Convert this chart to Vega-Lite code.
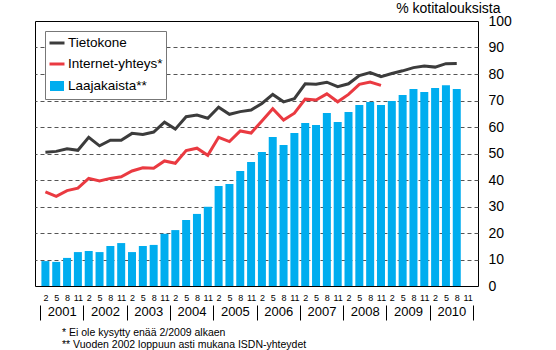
{
  "$schema": "https://vega.github.io/schema/vega-lite/v6.json",
  "width": 443,
  "height": 265,
  "autosize": {"type": "none"},
  "padding": {"left": 35, "top": 21, "right": 78, "bottom": 64},
  "background": "white",
  "config": {
    "font": "Liberation Sans",
    "view": {"stroke": "black", "strokeWidth": 1},
    "axis": {"labelColor": "#1a1a1a", "titleColor": "#1a1a1a"}
  },
  "title": {
    "text": ["* Ei ole kysytty enää 2/2009 alkaen", "** Vuoden 2002 loppuun asti mukana ISDN-yhteydet"],
    "orient": "bottom",
    "anchor": "start",
    "frame": "group",
    "dx": 27,
    "offset": 7,
    "fontSize": 10.5,
    "fontWeight": "normal",
    "color": "black",
    "lineHeight": 12
  },
  "data": {
    "values": [
      {"i":0,"s":"Laajakaista**","v":9.4},{"i":1,"s":"Laajakaista**","v":9.1},{"i":2,"s":"Laajakaista**","v":10.6},{"i":3,"s":"Laajakaista**","v":12.8},
      {"i":4,"s":"Laajakaista**","v":13.2},{"i":5,"s":"Laajakaista**","v":12.8},{"i":6,"s":"Laajakaista**","v":15.1},{"i":7,"s":"Laajakaista**","v":16.2},
      {"i":8,"s":"Laajakaista**","v":12.8},{"i":9,"s":"Laajakaista**","v":15.1},{"i":10,"s":"Laajakaista**","v":15.5},{"i":11,"s":"Laajakaista**","v":19.7},
      {"i":12,"s":"Laajakaista**","v":21.1},{"i":13,"s":"Laajakaista**","v":24.9},{"i":14,"s":"Laajakaista**","v":27.2},{"i":15,"s":"Laajakaista**","v":29.9},
      {"i":16,"s":"Laajakaista**","v":37.7},{"i":17,"s":"Laajakaista**","v":38.5},{"i":18,"s":"Laajakaista**","v":43.4},{"i":19,"s":"Laajakaista**","v":46.8},
      {"i":20,"s":"Laajakaista**","v":50.6},{"i":21,"s":"Laajakaista**","v":56.2},{"i":22,"s":"Laajakaista**","v":53.2},{"i":23,"s":"Laajakaista**","v":57.7},
      {"i":24,"s":"Laajakaista**","v":61.5},{"i":25,"s":"Laajakaista**","v":60.8},{"i":26,"s":"Laajakaista**","v":65.3},{"i":27,"s":"Laajakaista**","v":61.9},
      {"i":28,"s":"Laajakaista**","v":65.7},{"i":29,"s":"Laajakaista**","v":68.3},{"i":30,"s":"Laajakaista**","v":69.4},{"i":31,"s":"Laajakaista**","v":68.3},
      {"i":32,"s":"Laajakaista**","v":69.8},{"i":33,"s":"Laajakaista**","v":72.1},{"i":34,"s":"Laajakaista**","v":74.3},{"i":35,"s":"Laajakaista**","v":73.2},
      {"i":36,"s":"Laajakaista**","v":74.7},{"i":37,"s":"Laajakaista**","v":75.8},{"i":38,"s":"Laajakaista**","v":74.3},
      {"i":0,"s":"Tietokone","v":50.5},{"i":1,"s":"Tietokone","v":50.8},{"i":2,"s":"Tietokone","v":51.8},{"i":3,"s":"Tietokone","v":51.2},
      {"i":4,"s":"Tietokone","v":56.1},{"i":5,"s":"Tietokone","v":52.9},{"i":6,"s":"Tietokone","v":55.0},{"i":7,"s":"Tietokone","v":55.0},
      {"i":8,"s":"Tietokone","v":57.6},{"i":9,"s":"Tietokone","v":57.2},{"i":10,"s":"Tietokone","v":58.1},{"i":11,"s":"Tietokone","v":61.8},
      {"i":12,"s":"Tietokone","v":59.2},{"i":13,"s":"Tietokone","v":63.9},{"i":14,"s":"Tietokone","v":64.5},{"i":15,"s":"Tietokone","v":63.3},
      {"i":16,"s":"Tietokone","v":67.5},{"i":17,"s":"Tietokone","v":64.8},{"i":18,"s":"Tietokone","v":65.8},{"i":19,"s":"Tietokone","v":66.4},
      {"i":20,"s":"Tietokone","v":68.9},{"i":21,"s":"Tietokone","v":72.3},{"i":22,"s":"Tietokone","v":69.5},{"i":23,"s":"Tietokone","v":70.7},
      {"i":24,"s":"Tietokone","v":76.3},{"i":25,"s":"Tietokone","v":76.1},{"i":26,"s":"Tietokone","v":76.9},{"i":27,"s":"Tietokone","v":75.2},
      {"i":28,"s":"Tietokone","v":76.3},{"i":29,"s":"Tietokone","v":79.4},{"i":30,"s":"Tietokone","v":80.5},{"i":31,"s":"Tietokone","v":79.0},
      {"i":32,"s":"Tietokone","v":80.2},{"i":33,"s":"Tietokone","v":81.2},{"i":34,"s":"Tietokone","v":82.4},{"i":35,"s":"Tietokone","v":83.0},
      {"i":36,"s":"Tietokone","v":82.6},{"i":37,"s":"Tietokone","v":83.9},{"i":38,"s":"Tietokone","v":84.0},
      {"i":0,"s":"Internet-yhteys*","v":35.5},{"i":1,"s":"Internet-yhteys*","v":33.8},{"i":2,"s":"Internet-yhteys*","v":36.0},{"i":3,"s":"Internet-yhteys*","v":36.9},
      {"i":4,"s":"Internet-yhteys*","v":40.6},{"i":5,"s":"Internet-yhteys*","v":39.6},{"i":6,"s":"Internet-yhteys*","v":40.6},{"i":7,"s":"Internet-yhteys*","v":41.2},
      {"i":8,"s":"Internet-yhteys*","v":43.4},{"i":9,"s":"Internet-yhteys*","v":44.6},{"i":10,"s":"Internet-yhteys*","v":44.4},{"i":11,"s":"Internet-yhteys*","v":47.2},
      {"i":12,"s":"Internet-yhteys*","v":46.3},{"i":13,"s":"Internet-yhteys*","v":51.1},{"i":14,"s":"Internet-yhteys*","v":52.0},{"i":15,"s":"Internet-yhteys*","v":49.3},
      {"i":16,"s":"Internet-yhteys*","v":56.1},{"i":17,"s":"Internet-yhteys*","v":54.5},{"i":18,"s":"Internet-yhteys*","v":58.5},{"i":19,"s":"Internet-yhteys*","v":57.7},
      {"i":20,"s":"Internet-yhteys*","v":62.3},{"i":21,"s":"Internet-yhteys*","v":66.9},{"i":22,"s":"Internet-yhteys*","v":62.6},{"i":23,"s":"Internet-yhteys*","v":65.2},
      {"i":24,"s":"Internet-yhteys*","v":70.5},{"i":25,"s":"Internet-yhteys*","v":70.2},{"i":26,"s":"Internet-yhteys*","v":72.5},{"i":27,"s":"Internet-yhteys*","v":69.5},
      {"i":28,"s":"Internet-yhteys*","v":72.3},{"i":29,"s":"Internet-yhteys*","v":76.1},{"i":30,"s":"Internet-yhteys*","v":77.0},{"i":31,"s":"Internet-yhteys*","v":75.7}
    ]
  },
  "encoding": {
    "y": {
      "field": "v", "type": "quantitative",
      "scale": {"domain": [0, 100], "nice": false},
      "axis": {
        "orient": "right",
        "values": [0,10,20,30,40,50,60,70,80,90,100],
        "ticks": false, "domain": false, "grid": true,
        "gridDash": [4, 3], "gridColor": "#555",
        "gridOpacity": {"condition": {"test": "datum.value === 0 || datum.value === 100", "value": 0}, "value": 1},
        "labelFontSize": 14, "labelPadding": 10, "labelFlush": false, "labelOverlap": false, "labelColor": "black",
        "title": "% kotitalouksista", "titleAngle": 0, "titleAlign": "right", "titleBaseline": "alphabetic",
        "titleX": 22, "titleY": -9, "titleFontSize": 14, "titleFontWeight": "normal", "titleColor": "black"
      }
    },
    "color": {
      "field": "s", "type": "nominal",
      "scale": {"domain": ["Tietokone", "Internet-yhteys*", "Laajakaista**"], "range": ["#3c3c3c", "#ea3a41", "#00adef"]},
      "legend": {
        "title": null, "orient": "top-left", "offset": 10,
        "fillColor": "white", "strokeColor": "#777", "padding": 3,
        "labelFontSize": 13.5, "labelColor": "black", "labelOffset": 2,
        "symbolSize": 225, "symbolStrokeWidth": 3, "rowPadding": 5, "symbolType": "stroke",
        "encode": {
          "symbols": {
            "update": {
              "shape": {"signal": "datum.value === 'Laajakaista**' ? 'M-1,-0.62H1V0.62H-1Z' : 'stroke'"},
              "size": {"signal": "datum.value === 'Laajakaista**' ? 121 : 225"},
              "fill": {"signal": "datum.value === 'Laajakaista**' ? '#00adef' : 'transparent'"},
              "stroke": {"signal": "datum.value === 'Laajakaista**' ? 'transparent' : (datum.value === 'Tietokone' ? '#3c3c3c' : '#ea3a41')"},
              "strokeWidth": {"value": 3},
              "opacity": {"value": 1}
            }
          }
        }
      }
    }
  },
  "layer": [
    {
      "transform": [{"filter": "datum.s === 'Laajakaista**'"}],
      "mark": {"type": "bar", "size": 8},
      "encoding": {
        "x": {
          "field": "i", "type": "quantitative",
          "scale": {"domain": [-0.5, 39.5], "nice": false, "zero": false},
          "axis": {
            "orient": "bottom",
            "values": [0,1,2,3,4,5,6,7,8,9,10,11,12,13,14,15,16,17,18,19,20,21,22,23,24,25,26,27,28,29,30,31,32,33,34,35,36,37,38,39],
            "labelExpr": "['2','5','8','11'][datum.value % 4]",
            "ticks": false, "domain": false, "grid": false, "title": null,
            "labelFontSize": 9, "labelPadding": 7, "labelFlush": false, "labelOverlap": false, "labelColor": "black"
          }
        }
      }
    },
    {
      "transform": [{"filter": "datum.s === 'Tietokone'"}],
      "mark": {"type": "line", "strokeWidth": 3},
      "encoding": {
        "x": {
          "field": "i", "type": "quantitative",
          "axis": {
            "orient": "bottom",
            "values": [-0.5, 3.5, 7.5, 11.5, 15.5, 19.5, 23.5, 27.5, 31.5, 35.5, 39.5],
            "labels": false, "ticks": true, "tickSize": 15, "tickColor": "black", "tickWidth": 1,
            "offset": 19, "domain": false, "grid": false, "title": null
          }
        }
      }
    },
    {
      "transform": [{"filter": "datum.s === 'Internet-yhteys*'"}],
      "mark": {"type": "line", "strokeWidth": 3},
      "encoding": {
        "x": {
          "field": "i", "type": "quantitative",
          "axis": {
            "orient": "bottom",
            "values": [1.5, 5.5, 9.5, 13.5, 17.5, 21.5, 25.5, 29.5, 33.5, 37.5],
            "labelExpr": "'' + (2001 + (datum.value - 1.5) / 4)",
            "ticks": false, "offset": 18, "labelPadding": 1, "labelFontSize": 13, "labelColor": "black",
            "labelFlush": false, "labelOverlap": false,
            "domain": false, "grid": false, "title": null
          }
        }
      }
    }
  ],
  "resolve": {"axis": {"x": "independent"}}
}
